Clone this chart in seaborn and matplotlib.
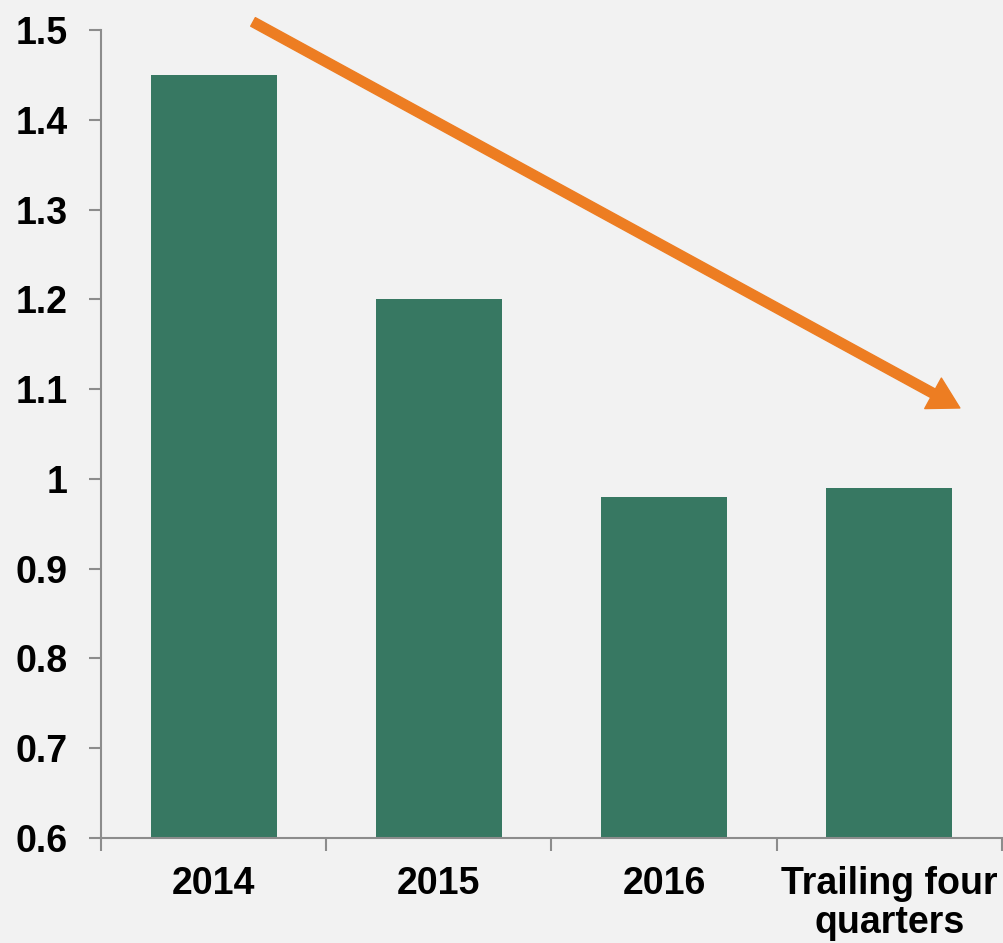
import matplotlib
matplotlib.use("Agg")
import matplotlib.pyplot as plt
import seaborn as sns
import pandas as pd
from matplotlib.ticker import FixedLocator

categories = ["2014", "2015", "2016", "Trailing four\nquarters"]
values = [1.45, 1.20, 0.98, 0.99]
y_ticks = [0.6, 0.7, 0.8, 0.9, 1.0, 1.1, 1.2, 1.3, 1.4, 1.5]
y_labels = ["0.6", "0.7", "0.8", "0.9", "1", "1.1", "1.2", "1.3", "1.4", "1.5"]

bg = "#F2F2F2"
green = "#377862"
orange = "#ED7D22"
grey = "#8C8C8C"

sns.set_style("white")
plt.rcParams["font.family"] = ["Liberation Sans", "DejaVu Sans"]
plt.rcParams["text.color"] = "black"
plt.rcParams["xtick.labelcolor"] = "black"
plt.rcParams["ytick.labelcolor"] = "black"

df = pd.DataFrame({"category": categories, "value": values})

fig = plt.figure(figsize=(10.04, 9.43), dpi=100, facecolor=bg)
ax = fig.add_axes([0.1006, 0.1113, 0.8974, 0.8569], facecolor=bg)

sns.barplot(data=df, x="category", y="value", color=green, saturation=1,
            width=0.56, linewidth=0, ax=ax)

ax.set_ylim(0.6, 1.5)
ax.set_xlim(-0.5, 3.5)
ax.set_yticks(y_ticks)
ax.set_yticklabels(y_labels, fontsize=27, fontweight="bold", color="black")

# category labels centred on bars, tick marks at category boundaries
ax.xaxis.set_major_locator(FixedLocator([-0.5, 0.5, 1.5, 2.5, 3.5]))
ax.set_xticklabels([])
ax.xaxis.set_minor_locator(FixedLocator([0, 1, 2, 3]))
ax.set_xticklabels(categories, minor=True, fontsize=27, fontweight="bold",
                   linespacing=1.1, color="black")
ax.tick_params(axis="x", which="minor", length=0, pad=20)
ax.tick_params(axis="x", which="major", length=9, width=1.5, color=grey,
               direction="out", bottom=True)
ax.tick_params(axis="y", length=9, width=1.5, color=grey, direction="out",
               left=True, pad=15)

for side in ["top", "right"]:
    ax.spines[side].set_visible(False)
for side in ["left", "bottom"]:
    ax.spines[side].set_color(grey)
    ax.spines[side].set_linewidth(1.5)

ax.set_xlabel("")
ax.set_ylabel("")

ax.annotate("", xy=(3.313, 1.079), xytext=(0.175, 1.509),
            xycoords="data", textcoords="data", annotation_clip=False,
            arrowprops=dict(facecolor=orange, edgecolor=orange, width=7,
                            headwidth=25, headlength=22, shrink=0))

fig.savefig("out.png", dpi=100, facecolor=bg)
